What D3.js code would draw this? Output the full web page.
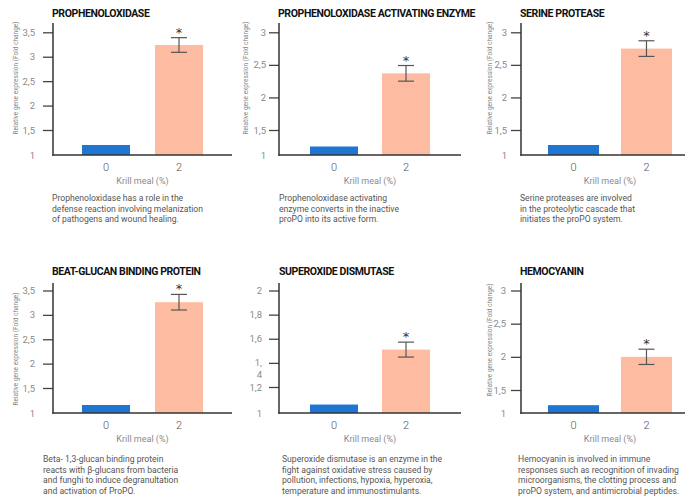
<!DOCTYPE html>
<html><head><meta charset="utf-8">
<script src="https://cdn.jsdelivr.net/npm/d3@7"></script>
<style>body{margin:0;background:#fff;} svg{display:block;}</style>
</head><body><svg id="c" width="685" height="497"></svg>
<script>
// ---------- data ----------
const titles = ["PROPHENOLOXIDASE","PROPHENOLOXIDASE ACTIVATING ENZYME","SERINE PROTEASE",
                "BEAT-GLUCAN BINDING PROTEIN","SUPEROXIDE DISMUTASE","HEMOCYANIN"];
const categories = ["0","2"];
const control = [1.20, 1.17, 1.20, 1.16, 1.065, 1.17];
const krill = [3.24, 2.37, 2.75, 3.26, 1.51, 2.0];
const krillErr = [0.15, 0.12, 0.12, 0.16, 0.062, 0.115];
const significance = ["*","*","*","*","*","*"];
const yTicks = [[1,1.5,2,2.5,3,3.5],[1,1.5,2,2.5,3],[1,1.5,2,2.5,3],
                [1,1.5,2,2.5,3,3.5],[1,1.2,1.4,1.6,1.8,2],[1,1.5,2,2.5,3]];
const yTickLabels = [["1","1,5","2","2,5","3","3,5"],["1","1,5","2","2,5","3"],["1","1,5","2","2,5","3"],
                     ["1","1,5","2","2,5","3","3,5"],["1","1,2","1,\n4","1,6","1,8","2"],["1","1,5","2","2,5","3"]];
const xLabel = "Krill meal (%)";
const yLabel = "Relative gene expression (Fold change)";
const showYLabel = [true,true,true,true,false,true];
const descriptions = [
  ["Prophenoloxidase has a role in the","defense reaction involving melanization","of pathogens and wound healing."],
  ["Prophenoloxidase activating","enzyme converts in the inactive","proPO into its active form."],
  ["Serine proteases are involved","in the proteolytic cascade that","initiates the proPO system."],
  ["Beta- 1,3-glucan binding protein","reacts with β-glucans from bacteria","and funghi to induce degranultation","and activation of ProPO."],
  ["Superoxide dismutase is an enzyme in the","fight against oxidative stress caused by","pollution, infections, hypoxia, hyperoxia,","temperature and immunostimulants."],
  ["Hemocyanin is involved in immune","responses such as recognition of invading","microorganisms, the clotting process and","proPO system, and antimicrobial peptides."]
];

// ---------- layout ----------
const colX = [53, 279, 521], colRight = [232, 461, 699];
const padInner = [0.342, 0.333, 0.30], padOuter = [0.397, 0.43, 0.37];
const rowBase = [155, 413], rowTopTick = [32.3, 290.5], rowAxisTop = [23, 283];
const firstGap = [25, 25, 25, 25, 26, 23];
const tickPad = [8, 3, 4, 8, 7, 5];
const titleX = [52, 278, 520, 52, 279, 520], titleY = [17, 275];
const descX = [52, 279, 520, 43, 282, 518], descY = [201, 462], lineH = 10.6;
const yTitleX = [17.5, 247.5, 491.5], yTitleCY = [78, 78, 78, 349, 349, 340];
const colors = {control: "#1f76d2", krill: "#fdbca1"};

const svg = d3.select("#c");

titles.forEach((t, i) => {
  const col = i % 3, row = Math.floor(i / 3);
  const base = rowBase[row];
  const ticks = yTicks[i];
  const y = d3.scaleLinear()
    .domain([1, ticks[1], ticks[ticks.length - 1]])
    .range([base, base - firstGap[i], rowTopTick[row]]);
  const x = d3.scaleBand().domain(categories)
    .range([colX[col], colRight[col]])
    .paddingInner(padInner[col]).paddingOuter(padOuter[col]);
  const g = svg.append("g");

  // title
  g.append("text").attr("x", titleX[i]).attr("y", titleY[row])
    .attr("font-family", "Roboto, sans-serif").attr("font-weight", 700)
    .attr("font-size", 10.5).attr("letter-spacing", -0.4).attr("fill", "#111").text(t);

  // bars
  const vals = [control[i], krill[i]];
  const fills = [colors.control, colors.krill];
  g.selectAll("rect.bar").data(categories).join("rect").attr("class", "bar")
    .attr("x", d => x(d)).attr("width", x.bandwidth())
    .attr("y", (d, k) => y(vals[k])).attr("height", (d, k) => base - y(vals[k]))
    .attr("fill", (d, k) => fills[k]);

  // error bar
  const cx = x(categories[1]) + x.bandwidth() / 2;
  const eTop = y(krill[i] + krillErr[i]), eBot = y(krill[i] - krillErr[i]);
  const eg = g.append("g").attr("stroke", "#555").attr("stroke-width", 1.2);
  eg.append("line").attr("x1", cx).attr("x2", cx).attr("y1", eTop).attr("y2", eBot);
  eg.append("line").attr("x1", cx - 8).attr("x2", cx + 8).attr("y1", eTop).attr("y2", eTop);
  eg.append("line").attr("x1", cx - 8).attr("x2", cx + 8).attr("y1", eBot).attr("y2", eBot);
  g.append("text").attr("x", cx).attr("y", eTop - 1).attr("text-anchor", "middle")
    .attr("font-family", "DejaVu Sans, sans-serif").attr("font-size", 13).attr("fill", "#333")
    .text(significance[i]);

  // y axis
  const ax = g.append("g").attr("transform", `translate(${colX[col]},0)`)
    .call(d3.axisLeft(y).tickValues(ticks).tickSize(10).tickPadding(tickPad[i])
      .tickFormat((d, k) => yTickLabels[i][k]));
  ax.select(".domain").remove();
  ax.selectAll(".tick line").attr("stroke", "#444").attr("stroke-width", 1.3)
    .filter(d => d === 1).remove();
  ax.selectAll(".tick text").attr("fill", "#8a8a8a").attr("font-size", 9.5)
    .attr("font-family", "Roboto, sans-serif").attr("font-weight", 400)
    .each(function(d, k) {
      const s = yTickLabels[i][k];
      if (s.includes("\n")) {
        const el = d3.select(this); const parts = s.split("\n");
        const xx = el.attr("x");
        el.text(null);
        parts.forEach((p, j) => el.append("tspan").attr("x", xx).attr("dy", j === 0 ? "0.32em" : "1.25em").text(p));
        el.attr("dy", null);
      }
    });
  g.append("line").attr("x1", colX[col]).attr("x2", colX[col])
    .attr("y1", rowAxisTop[row]).attr("y2", base + 0.75)
    .attr("stroke", "#333").attr("stroke-width", 1.5);
  // x axis
  g.append("line").attr("x1", colX[col] - 0.75).attr("x2", colRight[col])
    .attr("y1", base).attr("y2", base).attr("stroke", "#333").attr("stroke-width", 1.5);
  g.selectAll("text.xt").data(categories).join("text").attr("class", "xt")
    .attr("x", d => x(d) + x.bandwidth() / 2).attr("y", base + 16)
    .attr("text-anchor", "middle").attr("font-family", "Roboto, sans-serif").attr("font-weight", 300)
    .attr("font-size", 11).attr("fill", "#555").text(d => d);
  g.append("text").attr("x", (x(categories[0]) + x(categories[1]) + x.bandwidth()) / 2)
    .attr("y", base + 28.5).attr("text-anchor", "middle")
    .attr("font-family", "Roboto, sans-serif").attr("font-weight", 400)
    .attr("font-size", 9).attr("fill", "#8a8a8a").text(xLabel);

  // y title
  if (showYLabel[i]) {
    g.append("text").attr("transform", `translate(${yTitleX[col]},${yTitleCY[i]}) rotate(-90)`)
      .attr("text-anchor", "middle").attr("font-family", "Roboto, sans-serif")
      .attr("font-size", 6.5).attr("fill", "#888").text(yLabel);
  }

  // description
  const dt = g.append("text").attr("font-family", "Roboto, sans-serif")
    .attr("font-size", 8.6).attr("fill", "#555");
  descriptions[i].forEach((line, j) => {
    dt.append("tspan").attr("x", descX[i]).attr("y", descY[row] + j * lineH).text(line);
  });
});
</script></body></html>
